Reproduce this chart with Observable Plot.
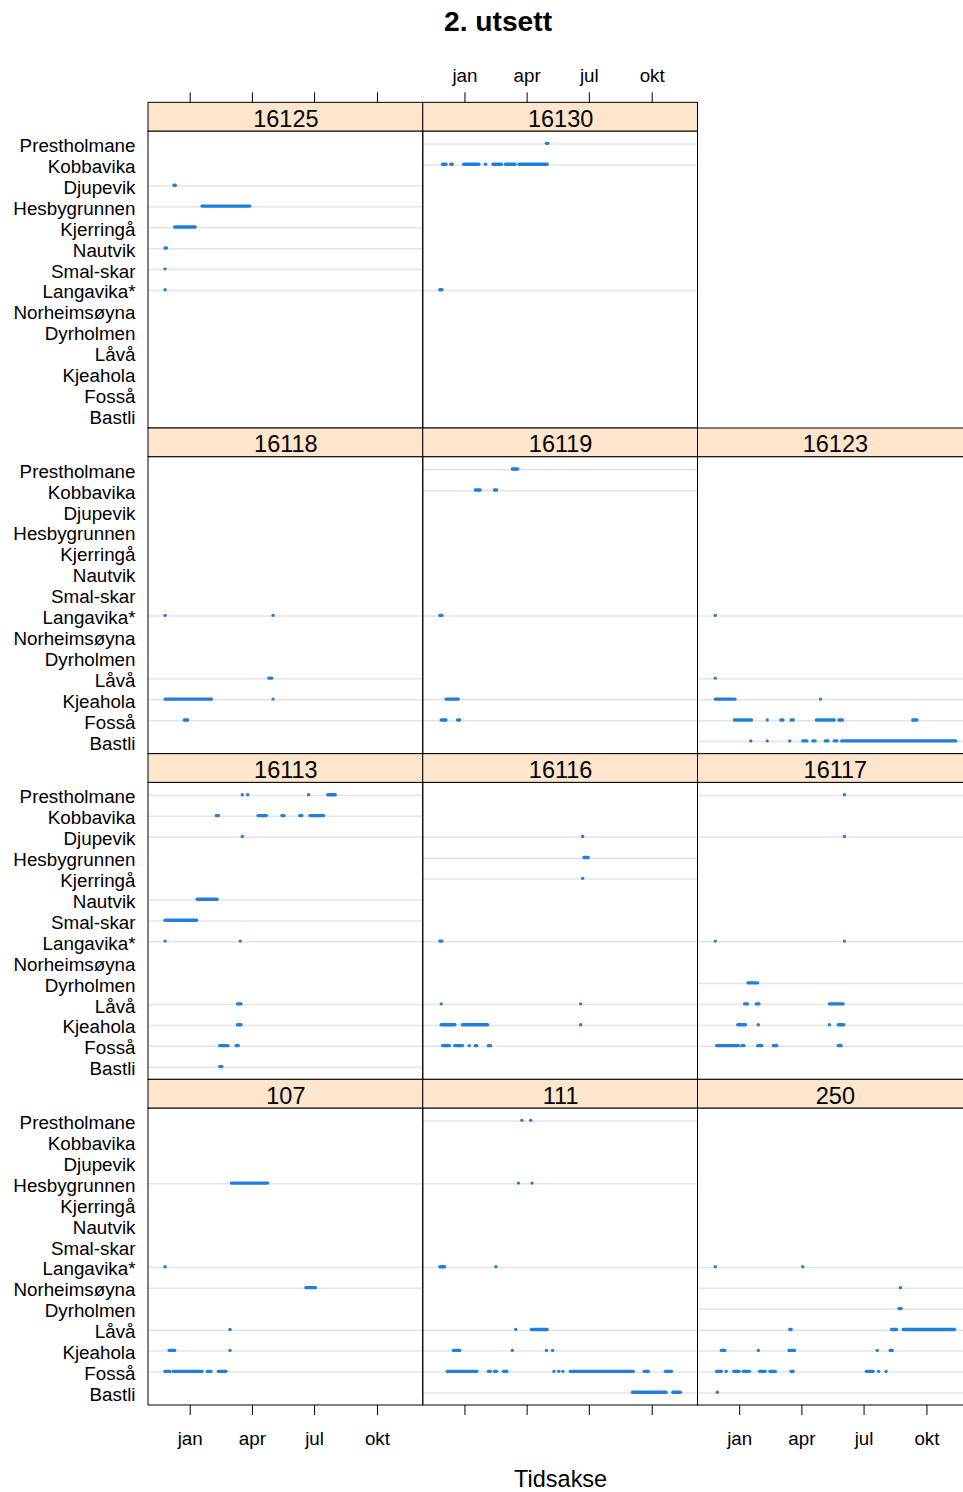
<!DOCTYPE html>
<html><head><meta charset="utf-8">
<script src="https://cdn.jsdelivr.net/npm/d3@7"></script>
<script src="https://cdn.jsdelivr.net/npm/@observablehq/plot@0.6"></script>
<style>
html,body{margin:0;padding:0;background:#fff;overflow:hidden;}
#wrap{position:relative;width:963px;height:1492px;overflow:hidden;background:#fff;}
#title{position:absolute;left:0;top:0;width:996px;height:45px;text-align:center;font-family:"Liberation Sans",Arial,sans-serif;font-weight:bold;font-size:28.2px;line-height:42px;color:#000;}
#chart{position:absolute;left:0;top:45px;}
</style></head><body>
<div id="wrap"><div id="title">2. utsett</div><div id="chart"></div></div>
<script>
// ---- data ----
const stations = ["Prestholmane","Kobbavika","Djupevik","Hesbygrunnen","Kjerringå","Nautvik","Smal-skar","Langavika*","Norheimsøyna","Dyrholmen","Låvå","Kjeahola","Fosså","Bastli"];
const panelNames = ["16125","16130",null,"16118","16119","16123","16113","16116","16117","107","111","250"];
const monthTicks = ["2016-01-01","2016-04-01","2016-07-01","2016-10-01"];
const monthLabels = ["jan","apr","jul","okt"];
const xDomain = ["2015-11-01","2016-12-07"];

const det16125 = [
["Djupevik","2015-12-09","2015-12-11"],["Hesbygrunnen","2016-01-19","2016-03-29"],["Kjerringå","2015-12-10","2016-01-09"],
["Nautvik","2015-11-26","2015-11-28"],["Smal-skar","2015-11-26","2015-11-26"],["Langavika*","2015-11-26","2015-11-26"]];
const det16130 = [
["Prestholmane","2016-04-30","2016-05-02"],["Kobbavika","2015-11-30","2015-12-05"],["Kobbavika","2015-12-12","2015-12-14"],
["Kobbavika","2015-12-31","2016-01-22"],["Kobbavika","2016-02-01","2016-02-01"],["Kobbavika","2016-02-12","2016-02-24"],
["Kobbavika","2016-03-01","2016-03-15"],["Kobbavika","2016-03-21","2016-05-01"],["Langavika*","2015-11-26","2015-11-29"]];
const det16118 = [
["Langavika*","2015-11-26","2015-11-26"],["Langavika*","2016-05-02","2016-05-02"],["Låvå","2016-04-26","2016-04-30"],
["Kjeahola","2015-11-26","2016-02-02"],["Kjeahola","2016-05-02","2016-05-02"],["Fosså","2015-12-24","2015-12-29"]];
const det16119 = [
["Prestholmane","2016-03-11","2016-03-19"],["Kobbavika","2016-01-17","2016-01-24"],["Kobbavika","2016-02-14","2016-02-17"],
["Langavika*","2015-11-26","2015-11-29"],["Kjeahola","2015-12-05","2015-12-23"],["Fosså","2015-11-28","2015-12-05"],
["Fosså","2015-12-22","2015-12-25"]];
const det16123 = [
["Langavika*","2015-11-27","2015-11-27"],["Låvå","2015-11-27","2015-11-27"],["Kjeahola","2015-11-27","2015-12-26"],
["Kjeahola","2016-04-29","2016-04-29"],["Fosså","2015-12-25","2016-01-19"],["Fosså","2016-02-11","2016-02-11"],
["Fosså","2016-03-02","2016-03-05"],["Fosså","2016-03-17","2016-03-20"],["Fosså","2016-04-23","2016-05-19"],
["Fosså","2016-05-26","2016-05-31"],["Fosså","2016-09-11","2016-09-17"],["Bastli","2016-01-18","2016-01-18"],
["Bastli","2016-02-11","2016-02-11"],["Bastli","2016-03-15","2016-03-15"],["Bastli","2016-04-03","2016-04-09"],
["Bastli","2016-04-18","2016-04-21"],["Bastli","2016-05-06","2016-05-10"],["Bastli","2016-05-19","2016-05-23"],
["Bastli","2016-05-30","2016-11-13"]];
const det16113 = [
["Prestholmane","2016-03-18","2016-03-18"],["Prestholmane","2016-03-26","2016-03-26"],["Prestholmane","2016-06-23","2016-06-23"],
["Prestholmane","2016-07-21","2016-08-01"],["Kobbavika","2016-02-09","2016-02-12"],["Kobbavika","2016-04-10","2016-04-22"],
["Kobbavika","2016-05-15","2016-05-18"],["Kobbavika","2016-06-10","2016-06-13"],["Kobbavika","2016-06-25","2016-07-15"],
["Djupevik","2016-03-18","2016-03-18"],["Nautvik","2016-01-12","2016-02-10"],["Smal-skar","2015-11-26","2016-01-11"],
["Langavika*","2015-11-26","2015-11-26"],["Langavika*","2016-03-15","2016-03-15"],["Låvå","2016-03-11","2016-03-16"],
["Kjeahola","2016-03-11","2016-03-16"],["Fosså","2016-02-14","2016-02-26"],["Fosså","2016-03-09","2016-03-12"],
["Bastli","2016-02-14","2016-02-17"]];
const det16116 = [
["Djupevik","2016-06-22","2016-06-22"],["Hesbygrunnen","2016-06-24","2016-06-30"],["Kjerringå","2016-06-22","2016-06-22"],
["Langavika*","2015-11-26","2015-11-29"],["Låvå","2015-11-28","2015-11-28"],["Låvå","2016-06-19","2016-06-19"],
["Kjeahola","2015-11-28","2015-12-18"],["Kjeahola","2015-12-29","2016-02-04"],["Kjeahola","2016-06-19","2016-06-19"],
["Fosså","2015-11-30","2015-12-10"],["Fosså","2015-12-18","2015-12-29"],["Fosså","2016-01-08","2016-01-08"],
["Fosså","2016-01-17","2016-01-19"],["Fosså","2016-02-05","2016-02-08"]];
const det16117 = [
["Prestholmane","2016-06-03","2016-06-03"],["Djupevik","2016-06-03","2016-06-03"],["Langavika*","2015-11-27","2015-11-27"],
["Langavika*","2016-06-03","2016-06-03"],["Dyrholmen","2016-01-14","2016-01-28"],["Låvå","2016-01-09","2016-01-13"],
["Låvå","2016-01-26","2016-01-30"],["Låvå","2016-05-12","2016-06-01"],["Kjeahola","2015-12-30","2016-01-10"],
["Kjeahola","2016-01-29","2016-01-29"],["Kjeahola","2016-05-12","2016-05-12"],["Kjeahola","2016-05-25","2016-06-02"],
["Fosså","2015-11-29","2015-12-31"],["Fosså","2016-01-05","2016-01-08"],["Fosså","2016-01-28","2016-02-03"],
["Fosså","2016-02-20","2016-02-25"],["Fosså","2016-05-25","2016-05-29"]];
const det107 = [
["Hesbygrunnen","2016-03-02","2016-04-24"],["Langavika*","2015-11-26","2015-11-26"],["Norheimsøyna","2016-06-19","2016-07-03"],
["Låvå","2016-02-29","2016-02-29"],["Kjeahola","2015-12-02","2015-12-10"],["Kjeahola","2016-02-29","2016-02-29"],
["Fosså","2015-11-26","2015-12-03"],["Fosså","2015-12-08","2016-01-19"],["Fosså","2016-01-27","2016-02-01"],
["Fosså","2016-02-12","2016-02-23"]];
const det111 = [
["Prestholmane","2016-03-25","2016-03-25"],["Prestholmane","2016-04-07","2016-04-07"],["Hesbygrunnen","2016-03-20","2016-03-20"],
["Hesbygrunnen","2016-04-09","2016-04-09"],["Langavika*","2015-11-26","2015-12-03"],["Langavika*","2016-02-16","2016-02-16"],
["Låvå","2016-03-16","2016-03-16"],["Låvå","2016-04-08","2016-05-01"],["Kjeahola","2015-12-16","2015-12-25"],
["Kjeahola","2016-03-11","2016-03-11"],["Kjeahola","2016-04-30","2016-04-30"],["Kjeahola","2016-05-09","2016-05-09"],
["Fosså","2015-12-07","2016-01-19"],["Fosså","2016-02-05","2016-02-08"],["Fosså","2016-02-14","2016-02-17"],
["Fosså","2016-02-27","2016-03-03"],["Fosså","2016-05-11","2016-05-11"],["Fosså","2016-05-18","2016-05-18"],
["Fosså","2016-05-24","2016-05-24"],["Fosså","2016-06-04","2016-09-04"],["Fosså","2016-09-20","2016-09-26"],
["Fosså","2016-10-21","2016-10-30"],["Bastli","2016-09-03","2016-10-22"],["Bastli","2016-11-01","2016-11-12"]];
const det250 = [
["Langavika*","2015-11-27","2015-11-27"],["Langavika*","2016-04-03","2016-04-03"],["Norheimsøyna","2016-08-24","2016-08-24"],
["Dyrholmen","2016-08-22","2016-08-25"],["Låvå","2016-03-15","2016-03-17"],["Låvå","2016-08-11","2016-08-18"],
["Låvå","2016-08-28","2016-11-11"],["Kjeahola","2015-12-06","2015-12-11"],["Kjeahola","2016-01-29","2016-01-29"],
["Kjeahola","2016-03-14","2016-03-22"],["Kjeahola","2016-07-21","2016-07-21"],["Kjeahola","2016-08-09","2016-08-12"],
["Fosså","2015-11-29","2015-12-06"],["Fosså","2015-12-13","2015-12-13"],["Fosså","2015-12-24","2016-01-01"],
["Fosså","2016-01-07","2016-01-16"],["Fosså","2016-01-31","2016-02-08"],["Fosså","2016-02-15","2016-02-23"],
["Fosså","2016-03-17","2016-03-20"],["Fosså","2016-07-05","2016-07-15"],["Fosså","2016-07-23","2016-07-23"],
["Fosså","2016-08-03","2016-08-03"],["Bastli","2015-11-30","2015-11-30"]];

const detections = {"16125":det16125,"16130":det16130,"16118":det16118,"16119":det16119,"16123":det16123,
  "16113":det16113,"16116":det16116,"16117":det16117,"107":det107,"111":det111,"250":det250};

// ---- build tables ----
const NCOL = 3, NROW = 4;
const panels = [];
panelNames.forEach((name, i) => { if (name) panels.push({name, col: i % NCOL, row: Math.floor(i / NCOL)}); });
const records = [], grid = [];
for (const p of panels) {
  const seen = new Set();
  for (const [station, s, e] of detections[p.name]) {
    records.push({panel: p.name, col: p.col, row: p.row, station, start: new Date(s), end: new Date(e)});
    if (!seen.has(station)) { seen.add(station); grid.push({col: p.col, row: p.row, station}); }
  }
}
const x0 = new Date(xDomain[0]), x1 = new Date(xDomain[1]);
const ticks = monthTicks.map((d, i) => ({date: new Date(d), label: monthLabels[i]}));
const topTickCols = [0, 1], topLabelCols = [1], bottomTickCols = [0, 1, 2], bottomLabelCols = [0, 2];
const expand = (cols, row) => cols.flatMap(col => ticks.map(t => ({...t, col, row})));
const topTicks = expand(topTickCols, 0), topLabels = expand(topLabelCols, 0);
const bottomTicks = expand(bottomTickCols, NROW - 1), bottomLabels = expand(bottomLabelCols, NROW - 1);

// ---- layout ----
const H = 297, S = 28.67, W = 274.75;
const marginLeft = 148, marginTop = 86, marginBottom = 87, marginRight = 4;
const width = marginLeft + NCOL * W + marginRight;
const height = marginTop + NROW * H + (NROW - 1) * S + marginBottom;
const FONT = '"Liberation Sans", Arial, Helvetica, sans-serif';
const BLUE = "#1f7fdc";

const chart = Plot.plot({
  width, height, marginLeft, marginTop, marginBottom, marginRight,
  style: {fontFamily: FONT, fontSize: "18.8px", color: "#000", background: "#fff"},
  fx: {domain: d3.range(NCOL), paddingInner: 0, paddingOuter: 0, round: false, axis: null},
  fy: {domain: d3.range(NROW), paddingInner: S / (H + S), paddingOuter: 0, round: false, axis: null},
  x: {type: "utc", domain: [x0, x1], axis: null},
  y: {type: "point", domain: stations, padding: 0.6, round: false},
  marks: [
    Plot.ruleY(grid, {y: "station", fx: "col", fy: "row", stroke: "#e4e4e4", strokeWidth: 1.5}),
    Plot.ruleY(records, {y: "station", x1: "start", x2: "end", fx: "col", fy: "row",
      stroke: BLUE, strokeWidth: 3.4, strokeLinecap: "round", dy: -0.7}),
    Plot.rect(panels, {x1: () => x0, x2: () => x1, fx: "col", fy: "row", fill: "none", stroke: "#000", strokeWidth: 1}),
    Plot.rect(panels, {x1: () => x0, x2: () => x1, fx: "col", fy: "row", fill: "#ffe5cc", stroke: "#000", strokeWidth: 1,
      insetTop: -S, insetBottom: H}),
    Plot.text(panels, {text: "name", fx: "col", fy: "row", frameAnchor: "top", lineAnchor: "middle", dy: -12.5, fontSize: 23.5}),
    Plot.axisY({facetAnchor: "left", tickSize: 0, tickPadding: 13, fontSize: 18.8, label: null, dy: 2}),
    Plot.ruleX(topTicks, {x: "date", fx: "col", fy: "row", insetTop: -(S + 10), insetBottom: H + S, stroke: "#000"}),
    Plot.text(topLabels, {x: "date", text: "label", fx: "col", fy: "row", frameAnchor: "top", lineAnchor: "middle", dy: -56, fontSize: 18.8}),
    Plot.ruleX(bottomTicks, {x: "date", fx: "col", fy: "row", insetTop: H, insetBottom: -10, stroke: "#000"}),
    Plot.text(bottomLabels, {x: "date", text: "label", fx: "col", fy: "row", frameAnchor: "bottom", lineAnchor: "middle", dy: 33, fontSize: 18.8}),
    Plot.text([{col: 1, row: NROW - 1}], {text: () => "Tidsakse", fx: "col", fy: "row", frameAnchor: "bottom", lineAnchor: "middle", dy: 74, fontSize: 23.5})
  ]
});
chart.style.maxWidth = "none";
chart.style.overflow = "visible";
document.getElementById("chart").appendChild(chart);
</script>
</body></html>
